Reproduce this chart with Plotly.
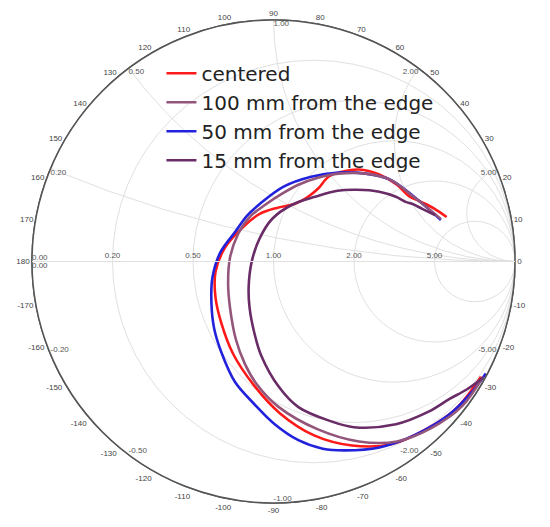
import numpy as np
import plotly.graph_objects as go

centered_re = [0.717, 0.667, 0.611, 0.560, 0.511, 0.438, 0.354, 0.285, 0.228, 0.184,
               0.143, 0.087, 0.014, -0.057, -0.127, -0.200, -0.240, -0.240, -0.216,
               -0.168, -0.083, 0.026, 0.168, 0.325, 0.487, 0.640, 0.758, 0.859]
centered_im = [0.184, 0.218, 0.247, 0.272, 0.318, 0.360, 0.381, 0.372, 0.351, 0.301,
               0.268, 0.238, 0.222, 0.197, 0.142, 0.059, -0.042, -0.151, -0.255,
               -0.381, -0.510, -0.628, -0.720, -0.762, -0.757, -0.690, -0.607, -0.477]

mm100_re = [0.693, 0.580, 0.483, 0.382, 0.269, 0.184, 0.103, 0.034, -0.030, -0.099,
            -0.147, -0.180, -0.188, -0.180, -0.156, -0.119, -0.071, 0.022, 0.184,
            0.354, 0.511, 0.653, 0.782, 0.867]
mm100_im = [0.176, 0.268, 0.339, 0.364, 0.364, 0.347, 0.318, 0.280, 0.238, 0.184,
            0.113, 0.017, -0.088, -0.192, -0.322, -0.423, -0.506, -0.603, -0.695,
            -0.745, -0.745, -0.690, -0.598, -0.477]

mm50_re = [0.693, 0.582, 0.483, 0.382, 0.269, 0.156, 0.042, -0.057, -0.111, -0.156,
           -0.220, -0.253, -0.257, -0.246, -0.214, -0.160, -0.080, 0.005, 0.103,
           0.204, 0.297, 0.438, 0.582, 0.725, 0.822, 0.879]
mm50_im = [0.172, 0.268, 0.339, 0.364, 0.368, 0.351, 0.310, 0.238, 0.188, 0.126,
           0.038, -0.067, -0.172, -0.276, -0.381, -0.498, -0.590, -0.674, -0.740,
           -0.775, -0.782, -0.770, -0.720, -0.636, -0.540, -0.464]

mm15_re = [0.669, 0.616, 0.576, 0.547, 0.507, 0.438, 0.345, 0.265, 0.172, 0.075,
           -0.006, -0.059, -0.091, -0.103, -0.099, -0.079, -0.051, 0.022, 0.103,
           0.236, 0.333, 0.507, 0.640, 0.729, 0.798, 0.867]
mm15_im = [0.192, 0.218, 0.238, 0.247, 0.268, 0.289, 0.297, 0.293, 0.268, 0.234,
           0.176, 0.092, -0.004, -0.109, -0.192, -0.297, -0.389, -0.519, -0.603,
           -0.661, -0.686, -0.674, -0.623, -0.569, -0.531, -0.481]

series_names = ["centered", "100 mm from the edge", "50 mm from the edge", "15 mm from the edge"]
series_colors = ["#ff1a1a", "#94557a", "#2222dd", "#6a2c66"]

grid_vals = [0.2, 0.5, 1, 2, 5]
deg_ticks = list(range(0, 360, 10))
deg_text = [str(d) if d <= 180 else str(d - 360) for d in deg_ticks]


def to_z(re, im):
    g = np.array(re) + 1j * np.array(im)
    return (1 + g) / (1 - g)


fig = go.Figure()

order = [0, 2, 1, 3]  # drawing order, legend order kept via legendrank
data = [(centered_re, centered_im), (mm100_re, mm100_im), (mm50_re, mm50_im), (mm15_re, mm15_im)]
for k in order:
    z = to_z(*data[k])
    fig.add_trace(go.Scattersmith(
        real=z.real, imag=z.imag, mode="lines", name=series_names[k],
        legendrank=k + 1,
        line=dict(color=series_colors[k], width=2.6, shape="spline"),
    ))

# imaginary-axis labels just inside the rim
lab_x = grid_vals + [-v for v in grid_vals] + [0, 0]
lab_pos = ["bottom right", "bottom right", "bottom right", "bottom left", "bottom left",
           "top right", "top right", "top right", "top left", "top left",
           "top right", "bottom right"]
fig.add_trace(go.Scattersmith(
    real=[0] * len(lab_x), imag=lab_x, mode="text",
    text=[f"{abs(v):.2f}" if v == 0 else f"{v:.2f}" for v in lab_x], textposition=lab_pos,
    textfont=dict(size=8, color="#555"), showlegend=False, hoverinfo="skip",
))

# empty traces carrying the degree scale
fig.add_trace(go.Scatterpolar(r=[], theta=[], subplot="polar", showlegend=False))
fig.add_trace(go.Scatterpolar(r=[], theta=[], subplot="polar2", showlegend=False))

fig.update_layout(
    width=550, height=527,
    margin=dict(l=24, r=43, t=12, b=32),
    paper_bgcolor="white",
    font=dict(family="Liberation Sans, Arial, sans-serif"),
    smith=dict(
        domain=dict(x=[0, 1], y=[0, 1]),
        bgcolor="white",
        realaxis=dict(tickvals=grid_vals, tickformat=".2f", tickangle=0, gridcolor="#e0e0e0",
                      linecolor="#e0e0e0", tickfont=dict(size=8, color="#555")),
        imaginaryaxis=dict(tickvals=grid_vals, showticklabels=False, gridcolor="#e0e0e0",
                           linecolor="#555", linewidth=1.5),
    ),
    polar=dict(
        domain=dict(x=[0, 1], y=[0, 1]), bgcolor="rgba(0,0,0,0)",
        radialaxis=dict(visible=False),
        angularaxis=dict(tickvals=deg_ticks, ticktext=deg_text, ticks="inside", ticklen=8,
                         tickcolor="#555", linecolor="#555", linewidth=1.5, showgrid=False,
                         tickfont=dict(size=8, color="#444")),
    ),
    polar2=dict(
        domain=dict(x=[0, 1], y=[0, 1]), bgcolor="rgba(0,0,0,0)",
        radialaxis=dict(visible=False),
        angularaxis=dict(tickvals=list(range(0, 360, 2)), ticks="inside", ticklen=4,
                         tickcolor="#555", showline=False, showgrid=False,
                         showticklabels=False),
    ),
    showlegend=True,
    legend=dict(x=0.268, y=0.93, xanchor="left", yanchor="top", bgcolor="rgba(0,0,0,0)",
                font=dict(family="DejaVu Sans, sans-serif", size=20, color="#222"),
                tracegroupgap=0),
)

fig.write_html("out.html")
